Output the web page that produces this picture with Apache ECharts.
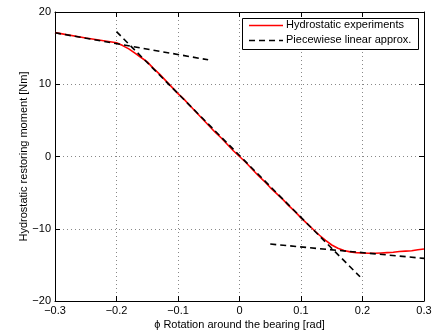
<!DOCTYPE html>
<html>
<head>
<meta charset="utf-8">
<script src="https://cdn.jsdelivr.net/npm/echarts@6/dist/echarts.min.js"></script>
<style>html,body{margin:0;padding:0;background:#fff}#c{width:437px;height:335px}</style>
</head>
<body>
<div id="c"></div>
<script>
const phi = [-0.30,-0.25,-0.20,-0.19,-0.18,-0.17,-0.16,-0.15,-0.14,-0.13,-0.12,-0.11,-0.10,-0.09,-0.08,-0.07,-0.06,-0.05,-0.04,-0.03,-0.02,-0.01,0.00,0.01,0.02,0.03,0.04,0.05,0.06,0.07,0.08,0.09,0.10,0.11,0.12,0.13,0.14,0.15,0.16,0.17,0.18,0.19,0.20,0.21,0.22,0.23,0.24,0.25,0.26,0.27,0.28,0.29,0.30];
const moment = [17.15,16.4,15.75,15.35,14.9,14.3,13.7,13.1,12.2,11.4,10.5,9.6,8.7,7.9,7.0,6.1,5.2,4.3,3.4,2.6,1.7,0.8,0.0,-0.8,-1.7,-2.6,-3.4,-4.3,-5.1,-5.9,-6.8,-7.6,-8.5,-9.3,-10.1,-10.9,-11.6,-12.25,-12.7,-13.0,-13.2,-13.3,-13.35,-13.4,-13.4,-13.35,-13.3,-13.25,-13.15,-13.1,-13.05,-12.9,-12.8];
const upperSegX = [-0.30, -0.051];
const upperSegY = [17.12, 13.38];
const steepSegX = [-0.20, 0.196];
const steepSegY = [17.28, -16.65];
const lowerSegX = [0.05, 0.30];
const lowerSegY = [-12.12, -14.1];
const xTicks = [-0.3,-0.2,-0.1,0,0.1,0.2,0.3];
const yTicks = [-20,-10,0,10,20];
const legendNames = ['Hydrostatic experiments','Piecewiese linear approx.'];

const zip = (a,b) => a.map((v,i)=>[v,b[i]]);
const fmt = v => { if (Math.abs(v) < 1e-9) return '0'; const s = (Math.abs(v) >= 1 ? String(Math.round(v)) : v.toFixed(1)); return s.replace('-', '\u2212'); };
const font = 'Liberation Sans';
const gridLine = {show:true, lineStyle:{color:'#888', type:[1,3], width:1}};
const dashStyle = {color:'#000', width:1.6, type:[6,4]};

const chart = echarts.init(document.getElementById('c'), null, {renderer:'canvas'});
chart.setOption({
  animation:false,
  backgroundColor:'#fff',
  textStyle:{fontFamily:font},
  grid:{left:55, right:13, top:12, bottom:33, containLabel:false},
  legend:{show:false},
  xAxis:[{
    type:'value', min:xTicks[0], max:xTicks[xTicks.length-1], interval:0.1,
    position:'bottom',
    name:'\u03D5 Rotation around the bearing [rad]', nameLocation:'middle', nameGap:18, nameMoveOverlap:false,
    nameTextStyle:{fontFamily:font, fontSize:11, color:'#000'},
    axisLine:{show:true, onZero:false, lineStyle:{color:'#000', width:1}},
    axisTick:{show:true, inside:true, length:5, lineStyle:{color:'#000'}},
    axisLabel:{formatter:fmt, fontFamily:font, fontSize:11, color:'#000', margin:4},
    splitLine:gridLine
  },{
    type:'value', min:xTicks[0], max:xTicks[xTicks.length-1], interval:0.1,
    position:'top',
    axisLine:{show:true, onZero:false, lineStyle:{color:'#000', width:1}},
    axisTick:{show:true, inside:true, length:5, lineStyle:{color:'#000'}},
    axisLabel:{show:false}, splitLine:{show:false}
  }],
  yAxis:[{
    type:'value', min:yTicks[0], max:yTicks[yTicks.length-1], interval:10,
    position:'left',
    name:'Hydrostatic restoring moment [Nm]', nameLocation:'middle', nameGap:26, nameMoveOverlap:false,
    nameTextStyle:{fontFamily:font, fontSize:11, color:'#000'},
    axisLine:{show:true, onZero:false, lineStyle:{color:'#000', width:1}},
    axisTick:{show:true, inside:true, length:5, lineStyle:{color:'#000'}},
    axisLabel:{formatter:fmt, fontFamily:font, fontSize:11, color:'#000', margin:4},
    splitLine:gridLine
  },{
    type:'value', min:yTicks[0], max:yTicks[yTicks.length-1], interval:10,
    position:'right',
    axisLine:{show:true, onZero:false, lineStyle:{color:'#000', width:1}},
    axisTick:{show:true, inside:true, length:5, lineStyle:{color:'#000'}},
    axisLabel:{show:false}, splitLine:{show:false}
  }],
  graphic:[
    {type:'rect', left:242, top:18, z:100, shape:{width:176, height:31}, style:{fill:'#fff', stroke:'#000', lineWidth:1}},
    {type:'line', z:101, shape:{x1:249, y1:25.5, x2:283, y2:25.5}, style:{stroke:'#ff0000', lineWidth:1.6}},
    {type:'line', z:101, shape:{x1:249, y1:40.5, x2:283, y2:40.5}, style:{stroke:'#000', lineWidth:1.6, lineDash:[6,4]}},
    {type:'text', z:101, left:286, top:19, style:{text:legendNames[0], font:'11px "Liberation Sans"', fill:'#000'}},
    {type:'text', z:101, left:286, top:34, style:{text:legendNames[1], font:'11px "Liberation Sans"', fill:'#000'}}
  ],
  series:[
    {name:legendNames[0], type:'line', data:zip(phi,moment), showSymbol:false, symbol:'none',
     lineStyle:{color:'#ff0000', width:1.6}, itemStyle:{color:'#ff0000'}, z:2},
    {name:legendNames[1], type:'line', data:zip(upperSegX,upperSegY), symbol:'none',
     lineStyle:dashStyle, itemStyle:{color:'#000'}, z:3},
    {name:legendNames[1], type:'line', data:zip(steepSegX,steepSegY), symbol:'none',
     lineStyle:dashStyle, itemStyle:{color:'#000'}, z:3},
    {name:legendNames[1], type:'line', data:zip(lowerSegX,lowerSegY), symbol:'none',
     lineStyle:dashStyle, itemStyle:{color:'#000'}, z:3}
  ]
});
</script>
</body>
</html>
